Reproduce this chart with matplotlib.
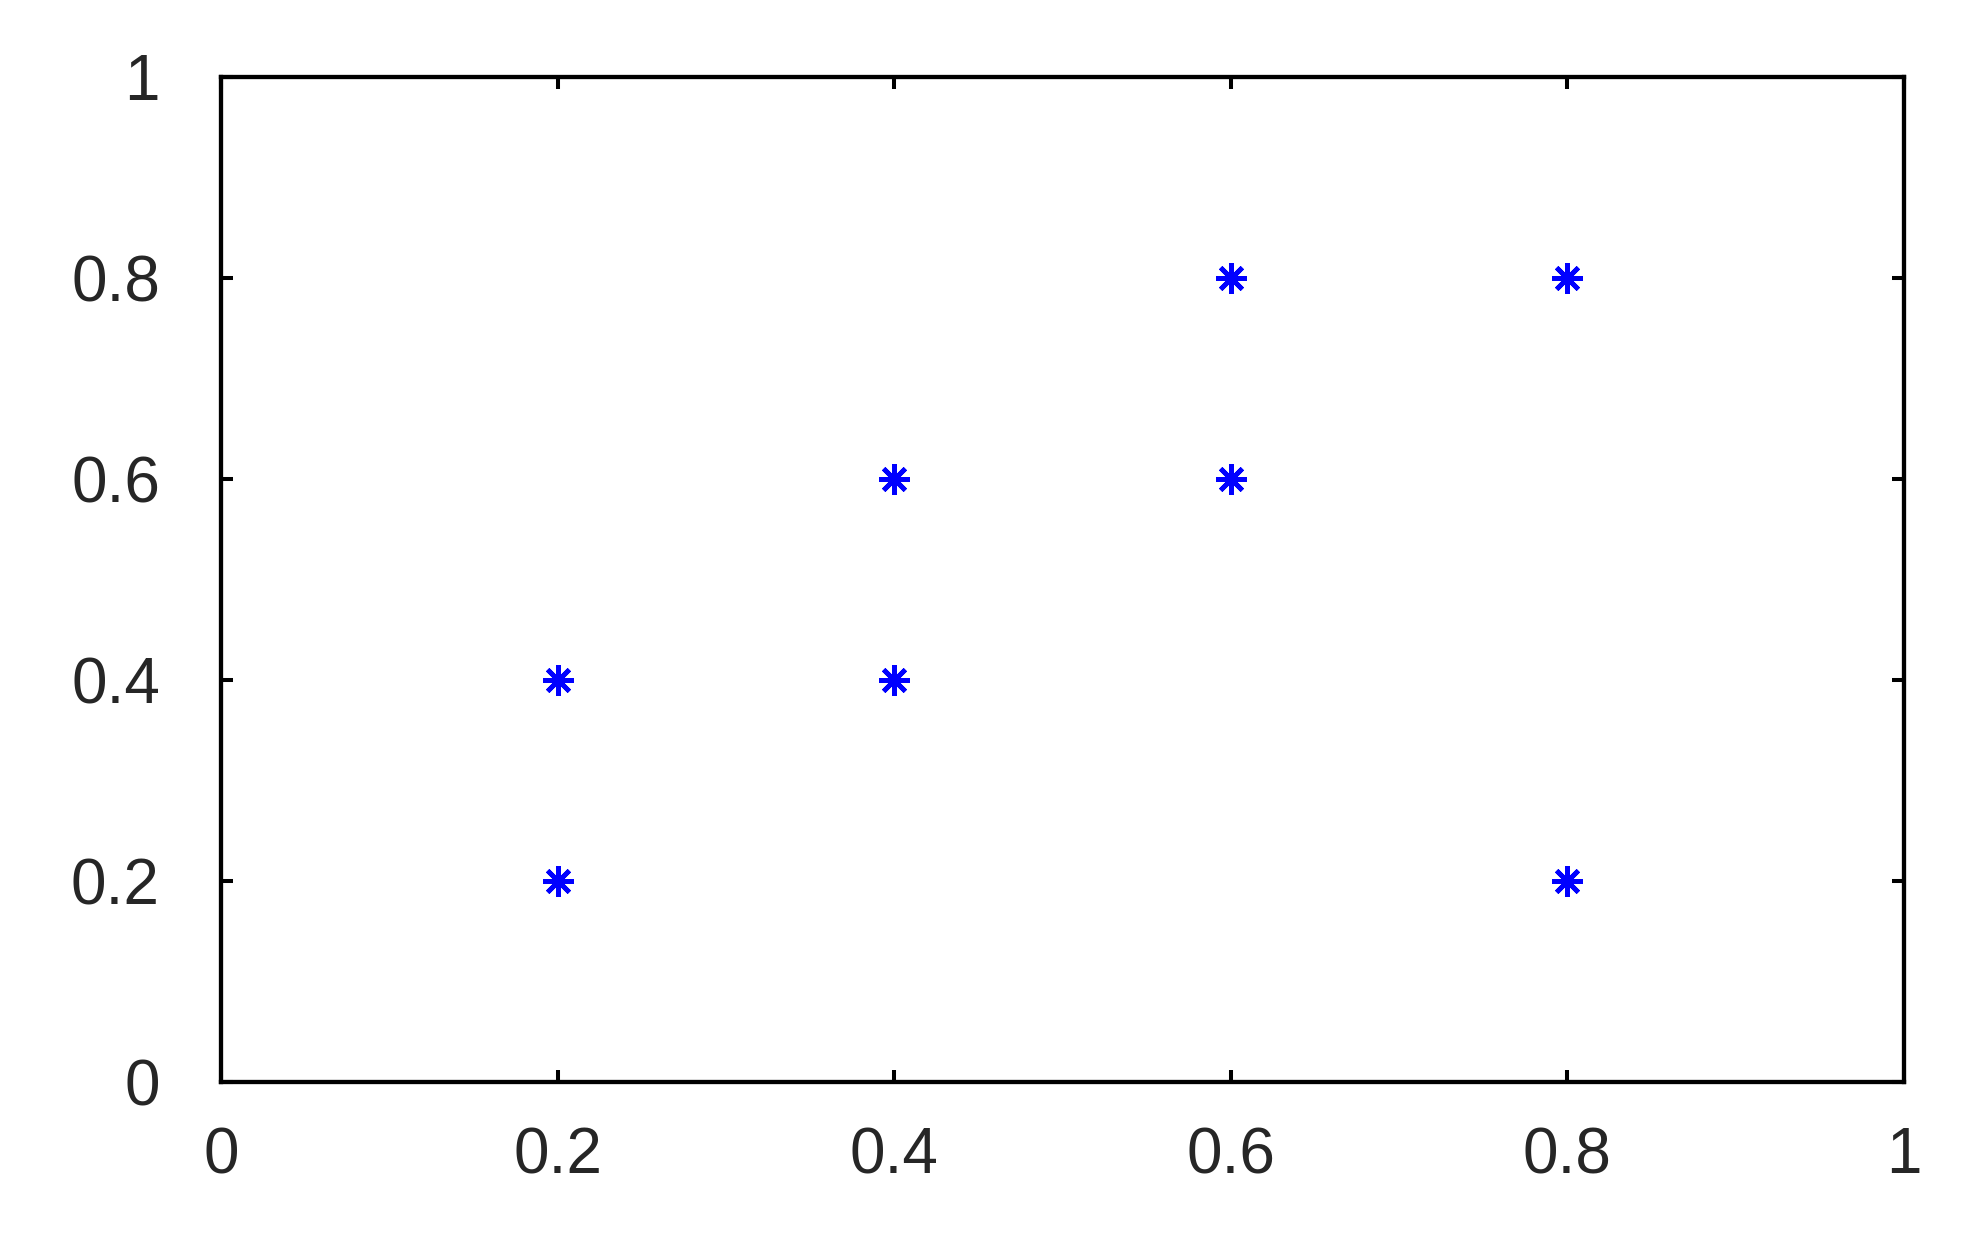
import matplotlib
matplotlib.use("Agg")
import matplotlib.pyplot as plt
import numpy as np

# point data
x = [0.2, 0.2, 0.4, 0.4, 0.6, 0.6, 0.8, 0.8]
y = [0.4, 0.2, 0.6, 0.4, 0.8, 0.6, 0.8, 0.2]
ticks = [0, 0.2, 0.4, 0.6, 0.8, 1]
ticklabels = ["0", "0.2", "0.4", "0.6", "0.8", "1"]

plt.rcParams['font.family'] = ['Liberation Sans', 'DejaVu Sans']

fig = plt.figure(figsize=(19.8, 12.36), dpi=100)
ax = fig.add_axes([221/1980, 1 - 1082/1236, (1904-221)/1980, (1082-77)/1236])

ax.plot(x, y, linestyle="none", marker=(8, 2, 0), markersize=22,
        markeredgewidth=3.4, color=(0, 0, 1))

ax.set_xlim(0, 1)
ax.set_ylim(0, 1)
ax.set_xticks(ticks)
ax.set_xticklabels(ticklabels)
ax.set_yticks(ticks)
ax.set_yticklabels(ticklabels)
for s in ax.spines.values():
    s.set_linewidth(3.1)
ax.tick_params(direction="in", length=8.6, width=2.9, top=True, right=True,
               labelsize=46, colors="black")
ax.tick_params(axis="x", pad=32)
ax.tick_params(axis="y", pad=44)
for t in ax.get_xticklabels() + ax.get_yticklabels():
    t.set_color("#262626")

fig.savefig("out.png", dpi=100)
